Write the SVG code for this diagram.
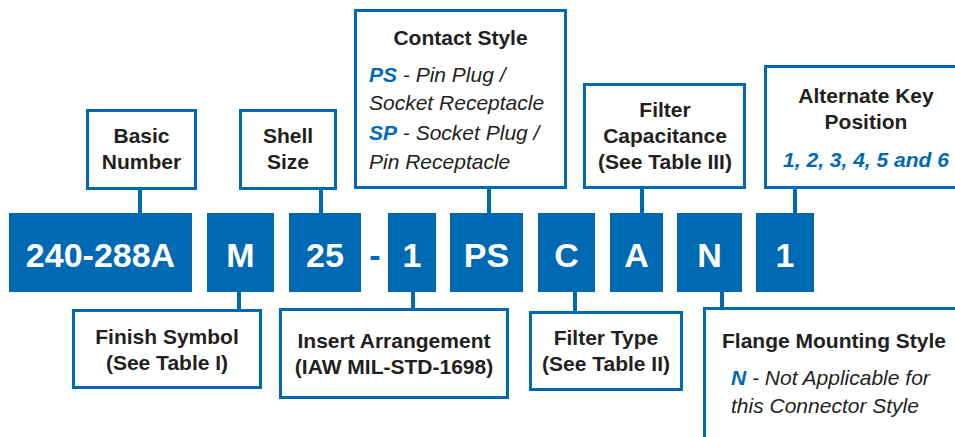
<svg xmlns="http://www.w3.org/2000/svg" width="955" height="437" viewBox="0 0 955 437">
<style>
.blk{fill:#0069b4}
.bt{font-family:"Liberation Sans",Arial,sans-serif;font-weight:bold;font-size:34px;fill:#fff;text-anchor:middle}
.lbl{fill:#fff;stroke:#0069b4;stroke-width:3}
.lt{font-family:"Liberation Sans",Arial,sans-serif;font-weight:bold;font-size:21px;fill:#231f20;text-anchor:middle}
.it{font-family:"Liberation Sans",Arial,sans-serif;font-style:italic;font-size:21px;fill:#231f20}
.bi{font-weight:bold;fill:#0069b4}
.con line{stroke:#0069b4;stroke-width:4}
</style>
<rect width="955" height="437" fill="#fff"/>
<g class="con">
<line x1="140" y1="189" x2="140" y2="214"/>
<line x1="321" y1="189" x2="321" y2="214"/>
<line x1="489" y1="188" x2="489" y2="214"/>
<line x1="642" y1="188" x2="642" y2="214"/>
<line x1="795" y1="188" x2="795" y2="214"/>
<line x1="239" y1="291" x2="239" y2="310"/>
<line x1="413" y1="291" x2="413" y2="309"/>
<line x1="575" y1="291" x2="575" y2="312"/>
<line x1="722" y1="291" x2="722" y2="308"/>
</g>
<g id="code">
<g id="b-240"><rect class="blk" x="9" y="213" width="183" height="79"/><text class="bt" x="100.5" y="267">240-288A</text></g>
<g id="b-M"><rect class="blk" x="207" y="213" width="67" height="79"/><text class="bt" x="240.5" y="267">M</text></g>
<g id="b-25"><rect class="blk" x="289" y="213" width="72" height="79"/><text class="bt" x="325" y="267">25</text></g>
<text class="bt" x="375" y="267" style="fill:#0069b4">-</text>
<g id="b-1"><rect class="blk" x="388" y="213" width="48" height="79"/><text class="bt" x="412" y="267">1</text></g>
<g id="b-PS"><rect class="blk" x="450" y="213" width="73" height="79"/><text class="bt" x="486.5" y="267">PS</text></g>
<g id="b-C"><rect class="blk" x="538" y="213" width="57" height="79"/><text class="bt" x="566.5" y="267">C</text></g>
<g id="b-A"><rect class="blk" x="610" y="213" width="53" height="79"/><text class="bt" x="636.5" y="267">A</text></g>
<g id="b-N"><rect class="blk" x="677" y="213" width="65" height="79"/><text class="bt" x="709.5" y="267">N</text></g>
<g id="b-1b"><rect class="blk" x="756" y="213" width="58" height="79"/><text class="bt" x="785" y="267">1</text></g>
</g>
<g id="basic"><rect class="lbl" x="87.5" y="110.5" width="108" height="78"/><text class="lt" x="141.5" y="143">Basic</text><text class="lt" x="141.5" y="169">Number</text></g>
<g id="shell"><rect class="lbl" x="240.5" y="110.5" width="95" height="78"/><text class="lt" x="288" y="143">Shell</text><text class="lt" x="288" y="169">Size</text></g>
<g id="contact"><rect class="lbl" x="355.5" y="10.5" width="210" height="177"/>
<text class="lt" x="460.5" y="45">Contact Style</text>
<text class="it" x="369" y="82"><tspan class="bi">PS</tspan> - Pin Plug /</text>
<text class="it" x="369" y="110">Socket Receptacle</text>
<text class="it" x="369" y="140"><tspan class="bi">SP</tspan> - Socket Plug /</text>
<text class="it" x="369" y="169">Pin Receptacle</text></g>
<g id="filtercap"><rect class="lbl" x="584.5" y="84.5" width="160" height="103"/>
<text class="lt" x="665" y="117">Filter</text><text class="lt" x="665" y="143">Capacitance</text><text class="lt" x="665" y="169">(See Table III)</text></g>
<g id="altkey"><rect class="lbl" x="765.5" y="66.5" width="210" height="121"/>
<text class="lt" x="866" y="103">Alternate Key</text><text class="lt" x="866" y="129">Position</text>
<text class="it bi" x="866" y="167" text-anchor="middle">1, 2, 3, 4, 5 and 6</text></g>
<g id="finish"><rect class="lbl" x="73.5" y="310.5" width="187" height="77"/>
<text class="lt" x="167" y="344">Finish Symbol</text><text class="lt" x="167" y="370">(See Table I)</text></g>
<g id="insert"><rect class="lbl" x="280.5" y="309.5" width="227" height="88"/>
<text class="lt" x="394" y="348">Insert Arrangement</text><text class="lt" x="394" y="374">(IAW MIL-STD-1698)</text></g>
<g id="filtertype"><rect class="lbl" x="530.5" y="312.5" width="151" height="77"/>
<text class="lt" x="606" y="345">Filter Type</text><text class="lt" x="606" y="371">(See Table II)</text></g>
<g id="flange"><rect class="lbl" x="704.5" y="308.5" width="270" height="150"/>
<text class="lt" x="834" y="348">Flange Mounting Style</text>
<text class="it" x="731" y="385"><tspan class="bi">N</tspan> - Not Applicable for</text>
<text class="it" x="731" y="413">this Connector Style</text></g>
</svg>
